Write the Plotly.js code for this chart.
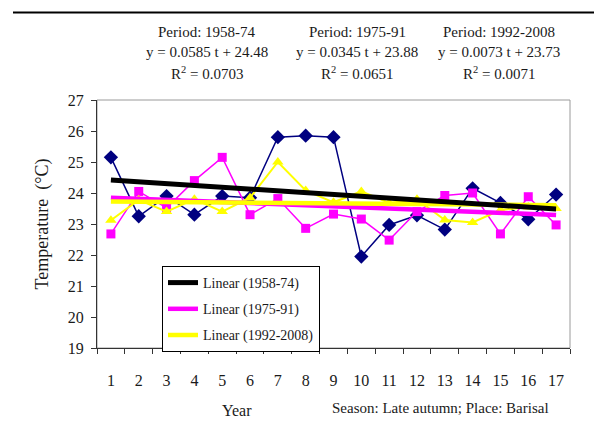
<!DOCTYPE html>
<html>
<head>
<meta charset="utf-8">
<script src="https://cdn.plot.ly/plotly-3.0.1.min.js"></script>
<style>html,body{margin:0;padding:0;background:#fff;}#chart{width:594px;height:430px;}</style>
</head>
<body>
<div id="chart"></div>
<script>
// ---- data ----
const years = ['1','2','3','4','5','6','7','8','9','10','11','12','13','14','15','16','17'];
const temp1958_74 = [25.15, 23.25, 23.9, 23.3, 23.9, 23.85, 25.8, 25.85, 25.8, 21.95, 22.97, 23.28, 22.82, 24.15, 23.68, 23.15, 23.95];
const temp1975_91 = [22.68, 24.05, 23.52, 24.4, 25.15, 23.3, 23.82, 22.86, 23.32, 23.16, 22.48, 23.4, 23.92, 24.0, 22.68, 23.88, 22.97];
const temp1992_2008 = [23.12, 23.78, 23.4, 23.8, 23.4, 23.85, 25.0, 24.08, 23.7, 24.05, 23.68, 23.8, 23.13, 23.05, 23.45, 23.55, 23.5];
const periodNames = ['1958-74', '1975-91', '1992-2008'];
const trendSlope = [-0.0585, -0.0345, -0.0073];
const trendIntercept = [24.48, 23.88, 23.73];
const eqLabels = ['y = 0.0585 t + 24.48', 'y = 0.0345 t + 23.88', 'y = 0.0073 t + 23.73'];
const r2Labels = ['0.0703', '0.0651', '0.0071'];
const yTicks = [19, 20, 21, 22, 23, 24, 25, 26, 27];

const serif = "'Liberation Serif', 'Times New Roman', serif";
const txt = '#1a1a1a';

function trend(i) {
  return years.map(y => trendIntercept[i] + trendSlope[i] * Number(y));
}

const traces = [
  {x: years, y: temp1958_74, type: 'scatter', mode: 'lines+markers', showlegend: false,
   line: {color: '#000080', width: 1.5}, marker: {symbol: 'diamond', size: 11, color: '#000080'}},
  {x: years, y: temp1975_91, type: 'scatter', mode: 'lines+markers', showlegend: false,
   line: {color: '#FF00FF', width: 1.5}, marker: {symbol: 'square', size: 9, color: '#FF00FF'}},
  {x: years, y: temp1992_2008, type: 'scatter', mode: 'lines+markers', showlegend: false,
   line: {color: '#FFFF00', width: 2}, marker: {symbol: 'triangle-up', size: 10, color: '#FFFF00'}},
  {x: years, y: trend(1), type: 'scatter', mode: 'lines', name: 'Linear (' + periodNames[1] + ')',
   legendrank: 2, legendgroup: 'b', line: {color: '#FF00FF', width: 4.5}},
  {x: years, y: trend(2), type: 'scatter', mode: 'lines', name: 'Linear (' + periodNames[2] + ')',
   legendrank: 3, legendgroup: 'c', line: {color: '#FFFF00', width: 4.5}},
  {x: years, y: trend(0), type: 'scatter', mode: 'lines', name: 'Linear (' + periodNames[0] + ')',
   legendrank: 1, legendgroup: 'a', line: {color: '#000000', width: 5}}
];

const L = 97, R = 570, T = 100, B = 348;
const px = v => (v - L) / (R - L);
const py = v => (B - v) / (B - T);

const blockX = [207, 357, 499];
const annotations = [];
for (let i = 0; i < 3; i++) {
  const lines = ['Period: ' + periodNames[i], eqLabels[i], 'R<sup>2</sup> = ' + r2Labels[i]];
  const ys = [32, 52.5, 73];
  lines.forEach((t, j) => annotations.push({
    text: t, xref: 'paper', yref: 'paper', x: px(blockX[i]), y: py(ys[j]),
    xanchor: 'center', yanchor: 'middle', showarrow: false,
    font: {family: serif, size: 15, color: txt}
  }));
}
annotations.push({text: 'Year', xref: 'paper', yref: 'paper', x: px(237), y: py(410),
  xanchor: 'center', yanchor: 'middle', showarrow: false, font: {family: serif, size: 16, color: txt}});
annotations.push({text: 'Season: Late autumn; Place: Barisal', xref: 'paper', yref: 'paper', x: px(440), y: py(408),
  xanchor: 'center', yanchor: 'middle', showarrow: false, font: {family: serif, size: 15, color: txt}});

const layout = {
  width: 594, height: 430,
  margin: {l: L, r: 594 - R, t: T, b: 430 - B, pad: 0},
  paper_bgcolor: '#ffffff', plot_bgcolor: '#ffffff',
  showlegend: true,
  legend: {x: px(162), y: py(266), xanchor: 'left', yanchor: 'top',
    bgcolor: '#ffffff', bordercolor: '#000000', borderwidth: 1,
    font: {family: serif, size: 14, color: txt}, tracegroupgap: 5, traceorder: 'grouped'},
  xaxis: {type: 'category', range: [-0.5, 16.5], tickson: 'boundaries',
    ticks: 'outside', ticklen: 5, tickcolor: '#333', showline: true, linecolor: '#333', linewidth: 1,
    showgrid: false, zeroline: false, ticklabelstandoff: 18,
    tickfont: {family: serif, size: 16, color: txt}},
  yaxis: {range: [19, 27], tickvals: yTicks, ticks: 'outside', ticklen: 5, tickcolor: '#333',
    showline: true, linecolor: '#333', linewidth: 1, showgrid: false, zeroline: false,
    tickfont: {family: serif, size: 16, color: txt}, ticklabelstandoff: 4,
    title: {text: 'Temperature  (°C)', standoff: 14, font: {family: serif, size: 18, color: txt}}},
  shapes: [
    {type: 'rect', xref: 'paper', yref: 'paper', x0: 0, x1: 1, y0: 0, y1: 1, layer: 'below',
     line: {color: '#9a9a9a', width: 1}},
    {type: 'line', xref: 'paper', yref: 'paper', x0: px(13), x1: px(594), y0: py(12.5), y1: py(12.5),
     line: {color: '#000000', width: 2}}
  ],
  annotations: annotations
};

Plotly.newPlot('chart', traces, layout, {staticPlot: true, displayModeBar: false});
</script>
</body>
</html>
